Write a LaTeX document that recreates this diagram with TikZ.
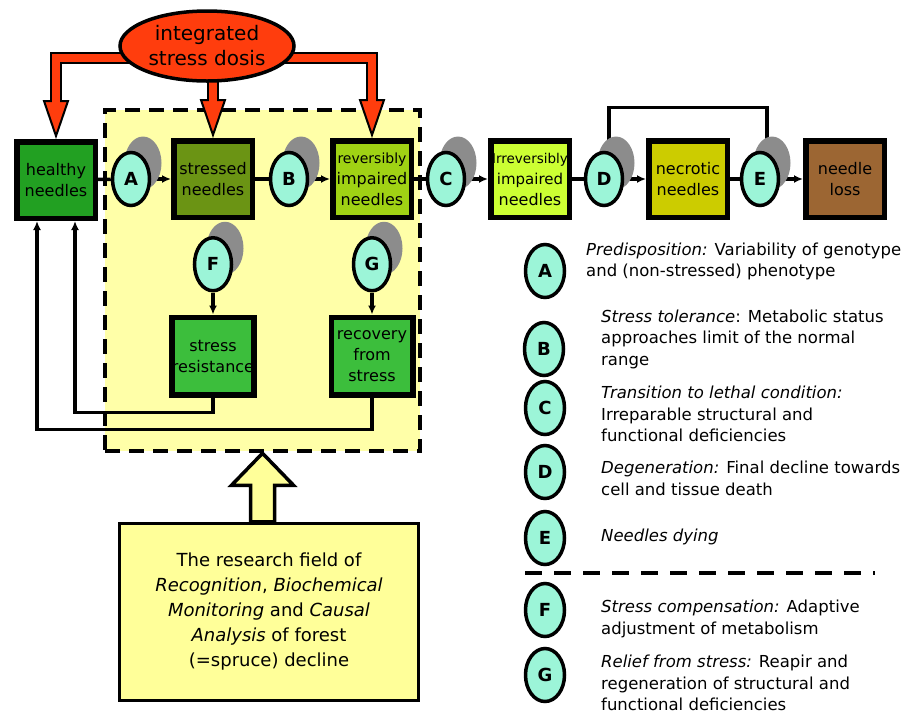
\documentclass[tikz,border=0pt]{standalone}
\usepackage{fontspec}
\setmainfont{DejaVu Sans}
\usepackage{tikz}
\usetikzlibrary{arrows.meta,positioning,calc,shapes.geometric,shadows}
\definecolor{FieldYellow}{HTML}{FFFFA8}
\definecolor{BoxYellow}{HTML}{FFFF99}
\definecolor{DoseRed}{HTML}{FF3D0D}
\definecolor{StepTeal}{HTML}{9CF5D8}
\definecolor{ShadowGray}{HTML}{8C8C8C}
\definecolor{HealthyGreen}{HTML}{22A022}
\definecolor{StressedOlive}{HTML}{6B9414}
\definecolor{RevGreen}{HTML}{A0D214}
\definecolor{IrrevLime}{HTML}{CCFF33}
\definecolor{NecroticOlive}{HTML}{CCCC00}
\definecolor{LossBrown}{HTML}{9C6633}
\definecolor{ResistGreen}{HTML}{3CBE3C}
\pgfdeclarelayer{back}
\pgfdeclarelayer{wires}
\pgfsetlayers{back,wires,main}

\begin{document}
\begin{tikzpicture}[x=1pt, y=-1pt, every node/.style={font=\fontsize{16}{21}\selectfont}]
\tikzset{stagebox/.style={draw, line width=5.5pt, minimum width=78.5pt, minimum height=76.5pt, inner sep=0pt, align=center}}
\tikzset{stepoval/.style={ellipse, draw, line width=3.5pt, fill=StepTeal, minimum width=37pt, minimum height=53pt, inner sep=0pt, font=\fontsize{18}{18}\selectfont\bfseries}}
\tikzset{shadowed/.style={drop shadow={shadow xshift=12pt, shadow yshift=16pt, fill=ShadowGray, opacity=1}}}
\tikzset{link/.style={line width=3.5pt}}
\tikzset{arrow/.style={-{Latex[length=9pt, width=8pt]}, line width=3.5pt}}
\tikzset{shaftout/.style={line width=12pt, line join=miter}}
\tikzset{shaftin/.style={line width=8pt, draw=DoseRed, line join=miter}}
\tikzset{dosehead/.style={fill=DoseRed, draw=black, line width=2pt, line join=miter}}
\tikzset{legendtext/.style={anchor=west, align=left, inner sep=0pt, font=\fontsize{16.5}{21.5}\selectfont}}
\useasboundingbox (0,0) rectangle (904,721);

% research field
\begin{pgfonlayer}{back}
\node[draw, line width=4.5pt, dash pattern=on 15pt off 9pt, fill=FieldYellow, minimum width=315pt, minimum height=341pt] (field) at (262.5,280.5) {};
\end{pgfonlayer}

% stress dose
\node[ellipse, draw, line width=3.5pt, fill=DoseRed, minimum width=174pt, minimum height=70pt, inner sep=0pt, align=center, font=\fontsize{20}{25}\selectfont] (dose) at (207,46) {integrated\\stress dosis};

% decline chain
\node[stagebox, fill=HealthyGreen] (healthy) at (56,180) {healthy\\needles};
\node[stepoval, shadowed] (A) at (131,179) {A};
\node[stagebox, fill=StressedOlive] (stressed) at (213,179) {stressed\\needles};
\node[stepoval, shadowed] (B) at (289,179) {B};
\node[stagebox, fill=RevGreen] (rev) at (372,179) {{\fontsize{14}{16}\selectfont reversibly}\\impaired\\needles};
\node[stepoval, shadowed] (C) at (446,179) {C};
\node[stagebox, fill=IrrevLime] (irrev) at (530,179) {{\fontsize{13.5}{16}\selectfont Irreversibly}\\{\fontsize{15}{19}\selectfont impaired}\\needles};
\node[stepoval, shadowed] (D) at (604,179) {D};
\node[stagebox, fill=NecroticOlive] (necrotic) at (688,179) {necrotic\\needles};
\node[stepoval, shadowed] (E) at (760,179) {E};
\node[stagebox, fill=LossBrown] (loss) at (845,179) {needle\\loss};

% compensation
\node[stepoval, shadowed, below=16pt of stressed] (F) {F};
\node[stagebox, fill=ResistGreen, minimum width=81.5pt, minimum height=77.5pt, below=22pt of F] (res) {stress\\resistance};
\node[stepoval, shadowed, below=16pt of rev] (G) {G};
\node[stagebox, fill=ResistGreen, minimum width=81.5pt, minimum height=77.5pt, below=22pt of G] (recov) {recovery\\from\\stress};

% research box
\node[draw, line width=3.5pt, fill=BoxYellow, minimum width=299pt, minimum height=177pt, align=center, font=\fontsize{18}{25}\selectfont] (research) at (269,612) {The research field of\\\textit{Recognition}, \textit{Biochemical}\\\textit{Monitoring} and \textit{Causal}\\\textit{Analysis} of forest\\(=spruce) decline};
\coordinate (shaftL) at ($(field.south)+(-12,0)$);
\coordinate (shaftR) at ($(field.south)+(12,0)$);
\filldraw[fill=BoxYellow, line width=3.5pt, line join=miter] (field.south) -- ($(field.south)+(31,32)$) -- ($(field.south)+(12,32)$) -- (shaftR |- research.north) -- (shaftL |- research.north) -- ($(field.south)+(-12,32)$) -- ($(field.south)+(-31,32)$) -- cycle;

\begin{pgfonlayer}{wires}
% dose arrows
\draw[shaftout] ($(dose.center)+(0,11.5)$) -| ($(healthy.north)+(0,-37)$);
\draw[dosehead] ($(healthy.north)+(-12,-38)$) -- ($(healthy.north)+(12,-38)$) -- ($(healthy.north)+(0,-3)$) -- cycle;
\draw[shaftin] ($(dose.center)+(0,11.5)$) -| ($(healthy.north)+(0,-36)$);
\draw[shaftout] (dose.center -| stressed.north) -- ($(stressed.north)+(0,-37)$);
\draw[dosehead] ($(stressed.north)+(-12,-38)$) -- ($(stressed.north)+(12,-38)$) -- ($(stressed.north)+(0,-3)$) -- cycle;
\draw[shaftin] (dose.center -| stressed.north) -- ($(stressed.north)+(0,-36)$);
\draw[shaftout] ($(dose.center)+(0,11.5)$) -| ($(rev.north)+(0,-37)$);
\draw[dosehead] ($(rev.north)+(-12,-38)$) -- ($(rev.north)+(12,-38)$) -- ($(rev.north)+(0,-3)$) -- cycle;
\draw[shaftin] ($(dose.center)+(0,11.5)$) -| ($(rev.north)+(0,-36)$);
% chain
\draw[link] (healthy) -- (A);
\draw[arrow] (A) -- (stressed);
\draw[link] (stressed) -- (B);
\draw[arrow] (B) -- (rev);
\draw[link] (rev) -- (C);
\draw[arrow] (C) -- (irrev);
\draw[link] (irrev) -- (D);
\draw[arrow] (D) -- (necrotic);
\draw[link] (necrotic) -- (E);
\draw[arrow] (E) -- (loss);
\draw[arrow] (D.80) -- ++(0,-44) -| (E.75);
\draw[arrow] (F) -- (res);
\draw[arrow] (G) -- (recov);
\draw[arrow] (res.south) -- ++(0,15) -| ([xshift=19pt]healthy.south);
\draw[arrow] (recov.south) -- ++(0,32) -| ([xshift=-19pt]healthy.south);
\end{pgfonlayer}

% legend
\node[stepoval, minimum width=39pt] (lA) at (545,271) {A};
\node[stepoval, minimum width=39pt] (lB) at (544,349) {B};
\node[stepoval, minimum width=39pt] (lC) at (545,408) {C};
\node[stepoval, minimum width=39pt] (lD) at (545,472) {D};
\node[stepoval, minimum width=39pt] (lE) at (545,538) {E};
\node[stepoval, minimum width=39pt] (lF) at (545,610) {F};
\node[stepoval, minimum width=39pt] (lG) at (545,675) {G};
\node[legendtext] (tA) at (586,261.5) {\textit{Predisposition:} Variability of genotype\\and (non-stressed) phenotype};
\node[legendtext] (tB) at (601,339) {\textit{Stress tolerance}: Metabolic status\\approaches limit of the normal\\range};
\node[legendtext] (tC) at (601,414) {\textit{Transition to lethal condition:}\\Irreparable structural and\\functional deficiencies};
\node[legendtext] (tD) at (601,478.5) {\textit{Degeneration:} Final decline towards\\cell and tissue death};
\node[legendtext] (tE) at (601,537) {\textit{Needles dying}};
\node[legendtext] (tF) at (601,619) {\textit{Stress compensation:} Adaptive\\adjustment of metabolism};
\node[legendtext] (tG) at (601,683) {\textit{Relief from stress:} Reapir and\\regeneration of structural and\\functional deficiencies};
\draw[line width=4pt, dash pattern=on 17pt off 12pt] (525,573) -- (875,573);
\end{tikzpicture}
\end{document}
